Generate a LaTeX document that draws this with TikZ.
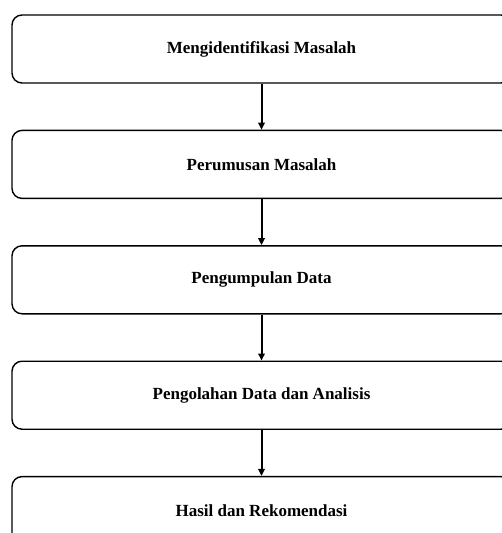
\documentclass[tikz,border=0pt]{standalone}
\usepackage{fontspec}
\setmainfont{Liberation Serif}
\usetikzlibrary{positioning,arrows.meta}
\tikzset{
    stage/.style={
           rectangle,
           rounded corners=10pt,
           draw=black, line width=1.4pt,
           minimum height=68pt,
           minimum width=499pt,
           inner sep=2pt,
           text centered,
           font=\fontsize{17}{20}\selectfont\bfseries
           },
}
\begin{document}
\begin{tikzpicture}[->,>={Triangle[length=7pt,width=6.5pt]},line width=2pt,node distance=46pt]
             \useasboundingbox (0pt,0pt) rectangle (501pt,-533pt);

             \node[stage] (IDENT) at (261.5pt,-49pt)
             {Mengidentifikasi Masalah};

             \node[stage, below=of IDENT] (RUMUS)
             {Perumusan Masalah};

             \node[stage, below=of RUMUS] (KUMPUL)
             {Pengumpulan Data};

             \node[stage, below=of KUMPUL] (OLAH)
             {Pengolahan Data dan Analisis};

             \node[stage, below=of OLAH] (HASIL)
             {Hasil dan Rekomendasi};

             \path
             (IDENT)  edge (RUMUS)
             (RUMUS)  edge (KUMPUL)
             (KUMPUL) edge (OLAH)
             (OLAH)   edge (HASIL)
             ;

        \end{tikzpicture}
\end{document}
